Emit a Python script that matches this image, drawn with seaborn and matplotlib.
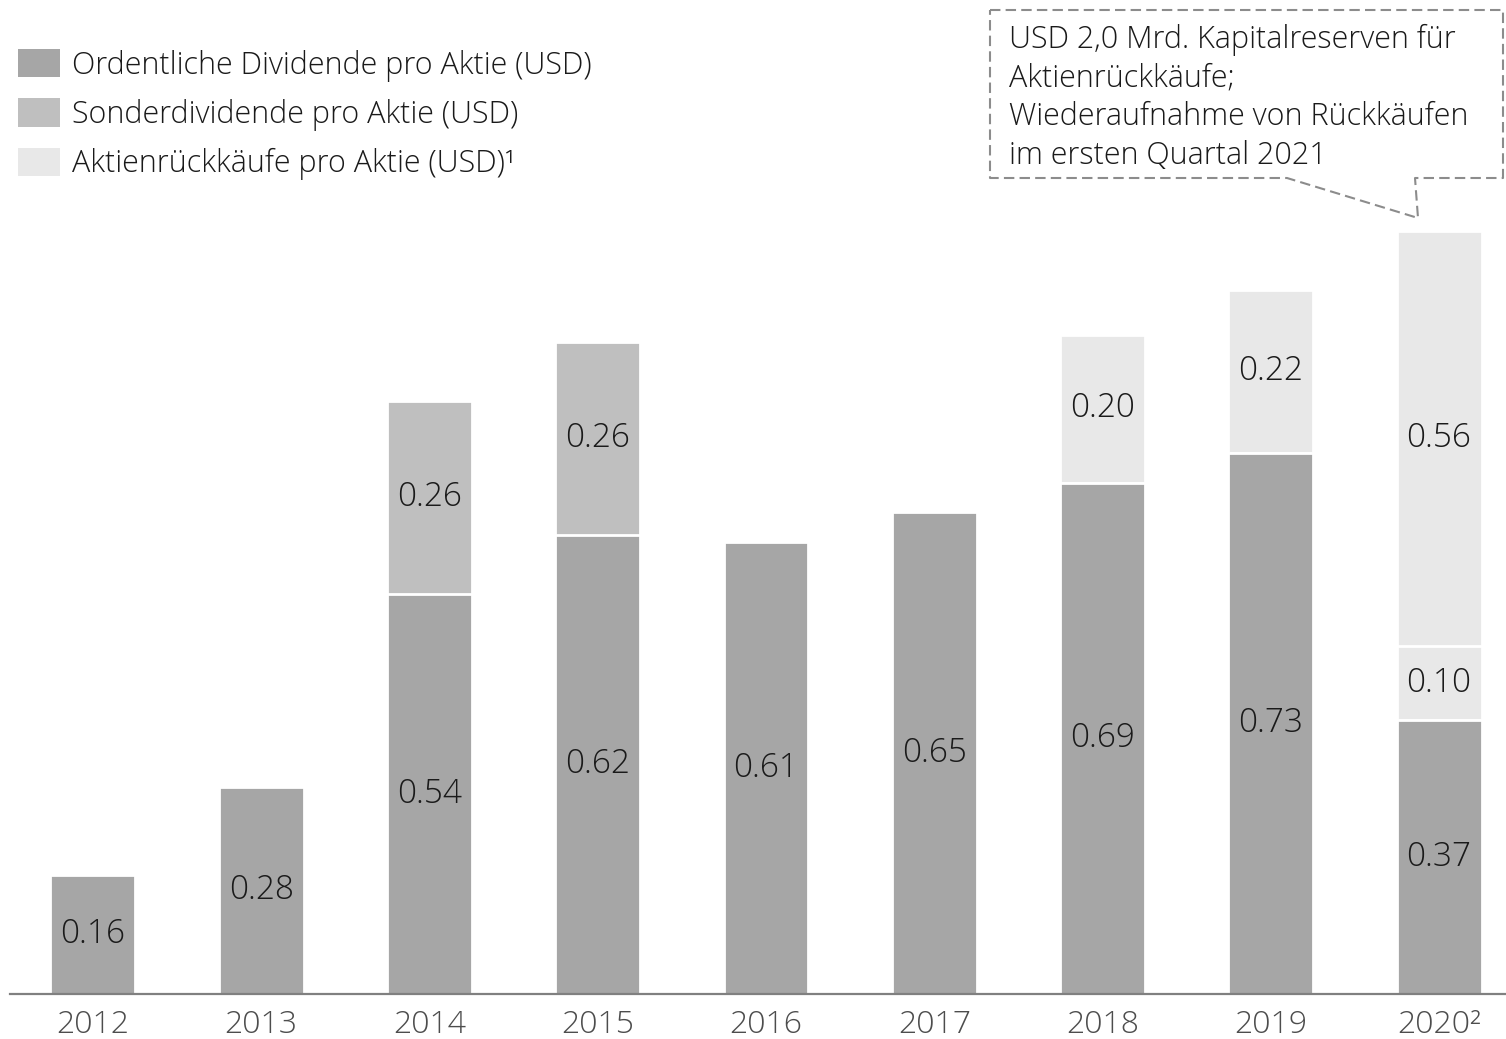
import matplotlib
matplotlib.use("Agg")
import matplotlib.pyplot as plt
from matplotlib.patches import Patch
from matplotlib.lines import Line2D
import numpy as np
import seaborn as sns

# ---- data ----
years = ["2012", "2013", "2014", "2015", "2016", "2017", "2018", "2019", "2020²"]
ordinary = [0.16, 0.28, 0.54, 0.62, 0.61, 0.65, 0.69, 0.73, 0.37]
special = [0.00, 0.00, 0.26, 0.26, 0.00, 0.00, 0.00, 0.00, 0.00]
buyback = [0.00, 0.00, 0.00, 0.00, 0.00, 0.00, 0.20, 0.22, 0.10]
reserve = [0.00, 0.00, 0.00, 0.00, 0.00, 0.00, 0.00, 0.00, 0.56]
legend_labels = ["Ordentliche Dividende pro Aktie (USD)",
                 "Sonderdividende pro Aktie (USD)",
                 "Aktienrückkäufe pro Aktie (USD)¹"]
note_text = ("USD 2,0 Mrd. Kapitalreserven für\nAktienrückkäufe;\n"
             "Wiederaufnahme von Rückkäufen\nim ersten Quartal 2021")

C_DARK, C_MID, C_LIGHT = "#a6a6a6", "#bfbfbf", "#e8e8e8"

sns.set_style("white")
plt.rcParams["font.family"] = ["Open Sans", "DejaVu Sans"]
plt.rcParams["font.weight"] = "light"

W, H = 1506, 1039
fig = plt.figure(figsize=(W / 100, H / 100), dpi=100)
fx = lambda x: x / W
fy = lambda y: 1 - y / H
ax = fig.add_axes([fx(10), fy(994), fx(1506) - fx(10), fy(0) - fy(994)])

o = np.array(ordinary); s = np.array(special); b = np.array(buyback); r = np.array(reserve)
c1 = o; c2 = o + s; c3 = c2 + b; c4 = c3 + r
for vals, col in [(c4, C_LIGHT), (c3, C_LIGHT), (c2, C_MID), (c1, C_DARK)]:
    sns.barplot(x=years, y=vals, color=col, saturation=1, width=0.505,
                edgecolor="white", linewidth=2, errorbar=None, ax=ax)

# segment labels
for i in range(len(years)):
    segs = [(0, o[i]), (c1[i], s[i]), (c2[i], b[i]), (c3[i], r[i])]
    for bot, h in segs:
        if h > 0:
            ax.text(i, bot + h / 2, f"{h:.2f}", ha="center", va="center",
                    fontsize=24, color="#1a1a1a", fontweight="light")

ax.set_xlim(-0.493, 8.398)
ax.set_ylim(0, 994 / 741)
ax.set_yticks([])
ax.set_xlabel(""); ax.set_ylabel("")
for sp in ["top", "left", "right"]:
    ax.spines[sp].set_visible(False)
ax.spines["bottom"].set_color("#808080")
ax.spines["bottom"].set_linewidth(1.6)
ax.tick_params(axis="x", length=0, pad=11, labelsize=23, labelcolor="#4d4d4d")

# legend
handles = [Patch(facecolor=c, edgecolor="none") for c in (C_DARK, C_MID, C_LIGHT)]
fig.legend(handles, legend_labels, loc="upper left", bbox_to_anchor=(fx(18), fy(49)),
           frameon=False, fontsize=22, handlelength=1.38, handleheight=1.05,
           handletextpad=0.4, labelspacing=0.55, borderpad=0, borderaxespad=0,
           labelcolor="#1a1a1a")

# callout box
xs = [990, 1503, 1503, 1415, 1418, 1287, 990, 990]
ys = [10, 10, 178, 178, 218, 178, 178, 10]
fig.add_artist(Line2D([fx(v) for v in xs], [fy(v) for v in ys], transform=fig.transFigure,
                      color="#8c8c8c", lw=1.5, ls=(0, (5, 2.5))))
fig.text(fx(1009), fy(24), note_text, ha="left", va="top", fontsize=22,
         color="#1a1a1a", linespacing=1.27)

fig.savefig("out.png", dpi=100)
